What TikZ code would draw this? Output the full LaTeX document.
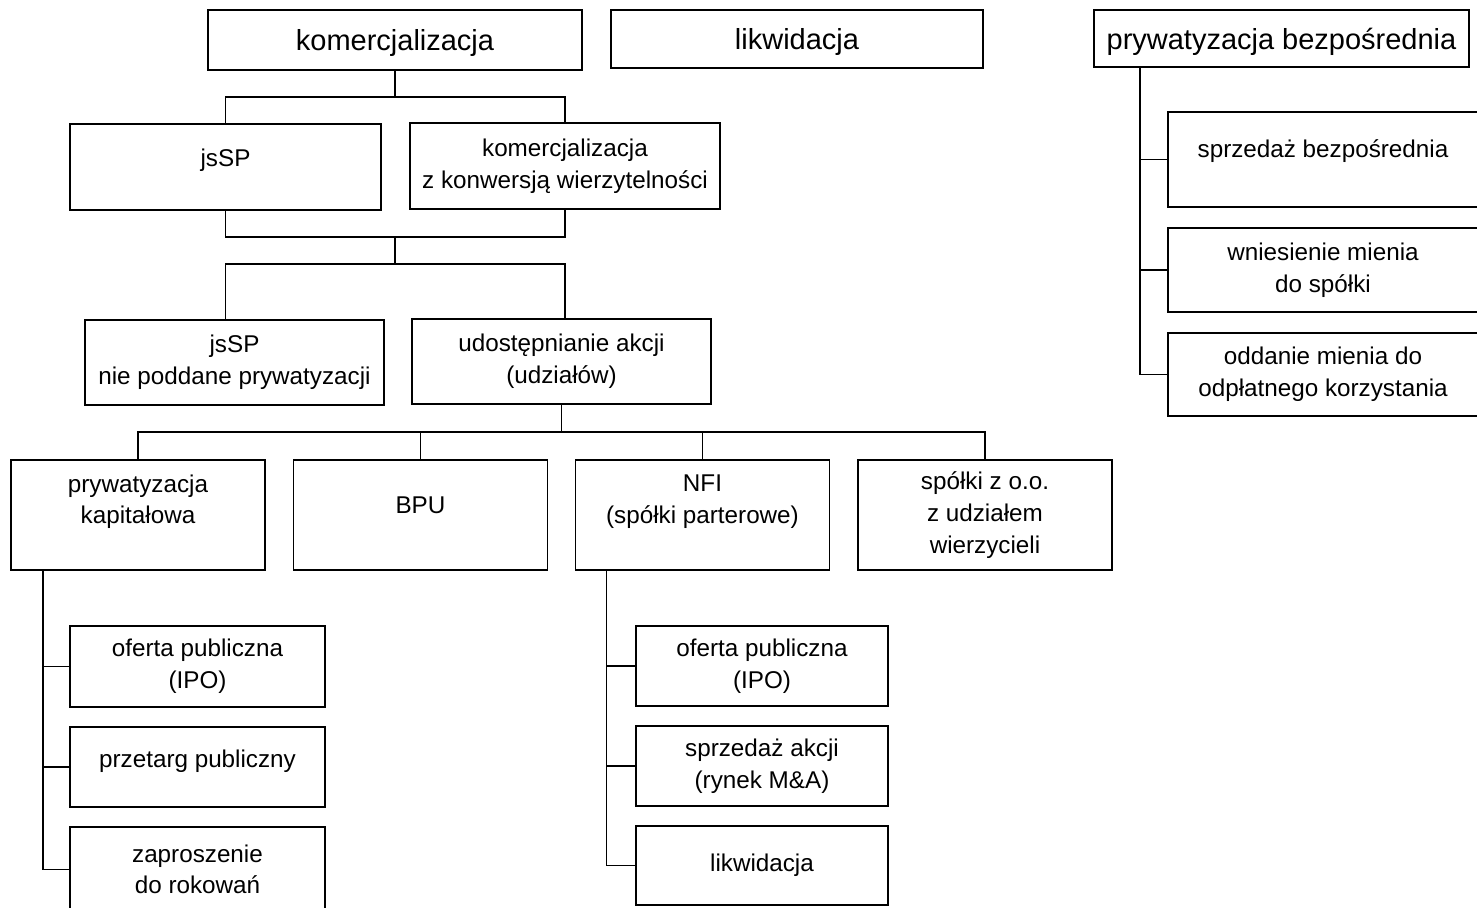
\documentclass[tikz,border=0pt]{standalone}
\usepackage{fontspec}
\setmainfont{Liberation Sans}
\begin{document}
\begin{tikzpicture}[x=0.02cm, y=-0.02cm,
    box/.style={draw, line width=1pt, inner sep=2pt, outer sep=0pt, align=center,
        font=\fontsize{13.8pt}{18pt}\selectfont},
    topbox/.style={box, text height=15.5pt, font=\fontsize{16.5pt}{18pt}\selectfont},
    link/.style={line width=1pt}]
    \useasboundingbox (0,0) rectangle (1477,907);

    % Top row
    \node[topbox, minimum width=7.48cm, minimum height=1.2cm] (kom) at (395,40) {komercjalizacja};
    \node[topbox, minimum width=7.44cm, minimum height=1.16cm] (likw) at (797,39) {likwidacja};
    \node[topbox, minimum width=7.5cm, minimum height=1.14cm] (pbez) at (1281.5,38.5) {prywatyzacja bezpośrednia};

    % Second and third level
    \node[box, minimum width=6.22cm, minimum height=1.72cm, text depth=10.4pt] (jssp) at (225.5,167) {jsSP};
    \node[box, minimum width=6.2cm, minimum height=1.72cm] (kkw) at (565,166) {komercjalizacja\\z konwersją wierzytelności};
    \node[box, minimum width=5.98cm, minimum height=1.7cm] (jsspn) at (234.5,362.5) {jsSP\\nie poddane prywatyzacji};
    \node[box, minimum width=5.98cm, minimum height=1.7cm] (udost) at (561.5,361.5) {udostępnianie akcji\\(udziałów)};

    % Fourth level (heights 110 px)
    \node[box, minimum width=5.08cm, minimum height=2.2cm] (pkap) at (138,515) {prywatyzacja\\kapitałowa\\\mbox{}};
    \node[box, minimum width=5.08cm, minimum height=2.2cm, text depth=11.4pt] (bpu) at (420.5,515) {BPU};
    \node[box, minimum width=5.08cm, minimum height=2.2cm] (nfi) at (702.5,515) {NFI\\(spółki parterowe)\\\mbox{}};
    \node[box, minimum width=5.08cm, minimum height=2.2cm] (szoo) at (985,515) {spółki z o.o.\\z udziałem\\wierzycieli};

    % Under prywatyzacja kapitalowa
    \node[box, minimum width=5.1cm, minimum height=1.62cm] (ipo1) at (197.5,666.5) {oferta publiczna\\(IPO)};
    \node[box, minimum width=5.1cm, minimum height=1.6cm, text depth=9.2pt] (prz) at (197.5,767) {przetarg publiczny};
    \node[box, minimum width=5.1cm, minimum height=1.7cm] (zap) at (197.5,869.5) {zaproszenie\\do rokowań};

    % Under NFI
    \node[box, minimum width=5.04cm, minimum height=1.6cm] (ipo2) at (762,666) {oferta publiczna\\(IPO)};
    \node[box, minimum width=5.04cm, minimum height=1.6cm] (ma) at (762,766) {sprzedaż akcji\\(rynek M\&A)};
    \node[box, minimum width=5.04cm, minimum height=1.58cm] (likw2) at (762,865.5) {likwidacja};

    % Under prywatyzacja bezposrednia
    \node[box, minimum width=6.2cm, minimum height=1.9cm, text depth=13pt] (sb) at (1323,159.5) {sprzedaż bezpośrednia};
    \node[box, minimum width=6.2cm, minimum height=1.68cm] (wm) at (1323,270) {wniesienie mienia\\do spółki};
    \node[box, minimum width=6.2cm, minimum height=1.66cm] (om) at (1323,374.5) {oddanie mienia do\\odpłatnego korzystania};

    % Connectors
    \draw[link] (kom.south) -- ++(0,27) coordinate (k1);
    \draw[link] (jssp.north) |- (k1) -| (kkw.north);
    \coordinate (m1) at (395,237);
    \draw[link] (jssp.south) |- (m1) -| (kkw.south);
    \draw[link] (m1) -- ++(0,27) coordinate (m2);
    \draw[link] (jssp.south |- jsspn.north) |- (m2) -| (kkw.south |- udost.north);
    \draw[link] (udost.south) -- ++(0,28) coordinate (u1);
    \draw[link] (pkap.north) |- (u1) -| (szoo.north);
    \foreach \n in {bpu,nfi}
        \draw[link] (\n.north) -- (\n.north |- u1);

    % Side lines
    \draw[link] (pkap.south west) ++(32,0) coordinate (ps) |- (zap.west);
    \foreach \n in {ipo1,prz}
        \draw[link] (ps |- \n.west) -- (\n.west);
    \draw[link] (nfi.south west) ++(31,0) coordinate (ns) |- (likw2.west);
    \foreach \n in {ipo2,ma}
        \draw[link] (ns |- \n.west) -- (\n.west);
    \draw[link] (pbez.south west) ++(46,0) coordinate (bs) |- (om.west);
    \foreach \n in {sb,wm}
        \draw[link] (bs |- \n.west) -- (\n.west);
\end{tikzpicture}
\end{document}
